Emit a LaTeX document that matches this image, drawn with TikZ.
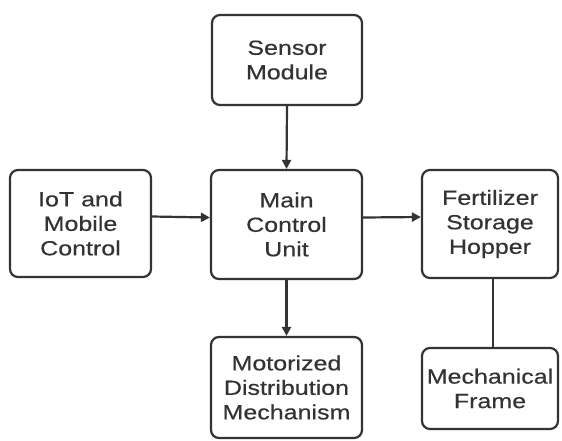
\documentclass[tikz,border=0pt]{standalone}
\usepackage{fontspec}
\setmainfont{Liberation Sans}[FakeStretch=1.22, FakeBold=0.4]
\usetikzlibrary{arrows.meta}
\definecolor{ink}{HTML}{333333}
\tikzset{
  block/.style={draw=ink, line width=2.2pt, rounded corners=8pt, fill=white,
    align=center, text=ink, font=\fontsize{20.5}{24.5}\selectfont,
    inner sep=0pt, minimum width=#1},
  link/.style={draw=ink, line width=2.2pt},
  arr/.style={link, -{Triangle[length=9pt,width=9pt]}}
}
\begin{document}
\begin{tikzpicture}[x=1pt,y=-1pt]
  \useasboundingbox (0,0) rectangle (562,440);
  \node[block=150pt, minimum height=90pt]  (sensor) at (287,60)     {Sensor\\Module};
  \node[block=141pt, minimum height=107pt] (iot)    at (80.5,223.5) {IoT and\\Mobile\\Control};
  \node[block=151pt, minimum height=109pt] (main)   at (286.5,224.5){Main\\Control\\Unit};
  \node[block=136pt, minimum height=108pt] (hopper) at (490,224)    {Fertilizer\\Storage\\Hopper};
  \node[block=151pt, minimum height=101pt] (motor)  at (286.5,387.5){Motorized\\Distribution\\Mechanism};
  \node[block=136pt, minimum height=81pt]  (frame)  at (490,388.5)  {Mechanical\\Frame};

  \draw[arr] (sensor.south) -- (main.north);
  \draw[arr] ([yshift=7pt]iot.east) -- ([yshift=7pt]main.west);
  \draw[arr] ([yshift=7pt]main.east) -- ([yshift=7pt]hopper.west);
  \draw[arr] (main.south) -- (motor.north);
  \draw[link] ([xshift=3pt]hopper.south) -- ([xshift=3pt]frame.north);
\end{tikzpicture}
\end{document}
